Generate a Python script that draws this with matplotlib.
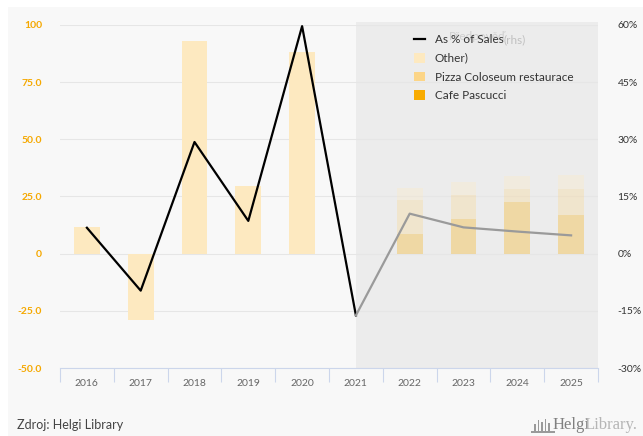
import numpy as np
import matplotlib.pyplot as plt
from matplotlib.lines import Line2D
from matplotlib.patches import Patch, Rectangle

plt.rcParams['font.family'] = ['Lato', 'DejaVu Sans']

years = ["2016", "2017", "2018", "2019", "2020", "2021", "2022", "2023", "2024", "2025"]
other = [11.5, -28.8, 92.8, 29.8, 88.2, 0.0, 5.4, 5.4, 5.8, 6.1]
pizza = [0.0, 0.0, 0.0, 0.0, 0.0, 0.0, 14.7, 10.5, 5.7, 11.4]
pascucci = [0.0, 0.0, 0.0, 0.0, 0.0, 0.0, 8.6, 15.3, 22.6, 17.0]
pct_sales = [6.8, -9.7, 29.3, 8.6, 59.7, -16.2, 10.5, 6.9, 5.8, 4.8]
first_forecast = 6  # 2022 onwards is forecast

c_other = "#fde9c0"
c_pizza = "#fcd587"
c_pascucci = "#f8ab00"

fig = plt.figure(figsize=(6.43, 4.36), dpi=100)
fig.patch.set_facecolor("white")
fig.patches.append(Rectangle((8 / 643, 0), 1, 1 - 7 / 436, transform=fig.transFigure,
                             facecolor="#f8f8f8", edgecolor="none", zorder=-10))

ax = fig.add_axes([60 / 643, 1 - 368 / 436, 538 / 643, 343 / 436])
ax.set_facecolor("none")
x = np.arange(len(years))

# forecast band from 2021 to the right edge
ax.axvspan(5, 9.5, ymin=0, ymax=1.01, facecolor="#ececec", edgecolor="none", zorder=0, clip_on=False)

hist = x < first_forecast
fc = ~hist
w = 0.48
ax.bar(x[hist], np.array(other)[hist], width=w, color=c_other, zorder=2)
pas = np.array(pascucci)[fc]
piz = np.array(pizza)[fc]
oth = np.array(other)[fc]
ax.bar(x[fc], pas, width=w, color=c_pascucci, alpha=0.3, zorder=2)
ax.bar(x[fc], piz, width=w, bottom=pas, color=c_pizza, alpha=0.3, zorder=2)
ax.bar(x[fc], oth, width=w, bottom=pas + piz, color=c_other, alpha=0.3, zorder=2)

ax.set_ylim(-50, 100)
ax.set_xlim(-0.5, 9.5)
ax.set_yticks([-50, -25, 0, 25, 50, 75, 100])
ax.set_yticklabels(["-50.0", "-25.0", "0", "25.0", "50.0", "75.0", "100"])
ax.grid(axis="y", color="#e6e6e6", linewidth=0.8, zorder=1)
ax.set_axisbelow(True)
ax.tick_params(axis="y", length=0, pad=13, labelsize=7.5, labelcolor="#f5a800")
for t in ax.get_yticklabels():
    t.set_fontweight("bold")

ax.set_xticks(x)
ax.set_xticklabels(years)
ax.set_xticks(np.arange(-0.5, 10, 1), minor=True)
ax.tick_params(axis="x", which="major", length=0, pad=8, labelsize=7.5, labelcolor="#666666")
ax.tick_params(axis="x", which="minor", length=10, width=0.8, color="#ccd6eb")
for s in ["top", "right", "left"]:
    ax.spines[s].set_visible(False)
ax.spines["bottom"].set_color("#ccd6eb")
ax.spines["bottom"].set_linewidth(0.8)

ax2 = ax.twinx()
ax2.set_ylim(-30, 60)
ax2.set_yticks([-30, -15, 0, 15, 30, 45, 60])
ax2.set_yticklabels(["-30%", "-15%", "0%", "15%", "30%", "45%", "60%"])
ax2.tick_params(axis="y", length=0, pad=14, labelsize=7.5, labelcolor="#333333")
for s in ax2.spines.values():
    s.set_visible(False)

ax2.plot(x[:first_forecast], pct_sales[:first_forecast], color="black", linewidth=1.6, zorder=5)
ax2.plot(x[first_forecast - 1:], pct_sales[first_forecast - 1:], color="#9a9a9a", linewidth=1.6, zorder=5)

ax2.text(7.25, 57, "Předpověď", ha="center", va="center", fontsize=8.5, color="#cfcfcf", zorder=1)

handles = [
    Line2D([0], [0], color="black", linewidth=1.6),
    Patch(facecolor=c_other),
    Patch(facecolor=c_pizza),
    Patch(facecolor=c_pascucci),
]
labels = ["As % of Sales", "Other)", "Pizza Coloseum restaurace", "Cafe Pascucci"]
leg = ax2.legend(handles, labels, loc="upper left", bbox_to_anchor=(414 / 643, 1 - 34 / 436),
                 bbox_transform=fig.transFigure, frameon=False, fontsize=8.5,
                 handlelength=0.9, handleheight=0.9, handletextpad=0.85, labelspacing=0.66,
                 borderaxespad=0, borderpad=0)
for t in leg.get_texts():
    t.set_color("#333333")
fig.text(503 / 643, 1 - 40 / 436, "(rhs)", fontsize=8.5, color="#c0c0c0", va="center")

fig.text(17 / 643, 1 - 425 / 436, "Zdroj: Helgi Library", fontsize=9, color="#444444", va="center")

# small library logo: bars on a base
for i, hgt in enumerate([7, 11, 9, 12, 8]):
    fig.patches.append(Rectangle(((534 + i * 3.6) / 643, 1 - 431 / 436), 1.6 / 643, hgt / 436,
                                 transform=fig.transFigure, facecolor="#9a9a9a", edgecolor="none"))
fig.patches.append(Rectangle((531 / 643, 1 - 433 / 436), 24 / 643, 2 / 436,
                             transform=fig.transFigure, facecolor="#9a9a9a", edgecolor="none"))
fig.text(590 / 643, 1 - 425 / 436, "Helgi", fontsize=12, color="#808080", va="center", ha="right",
         family="Liberation Serif")
fig.text(638 / 643, 1 - 425 / 436, "Library.", fontsize=12, color="#b5b5b5", va="center", ha="right",
         family="Liberation Serif")

fig.savefig("out.png", dpi=100, facecolor=fig.get_facecolor())
